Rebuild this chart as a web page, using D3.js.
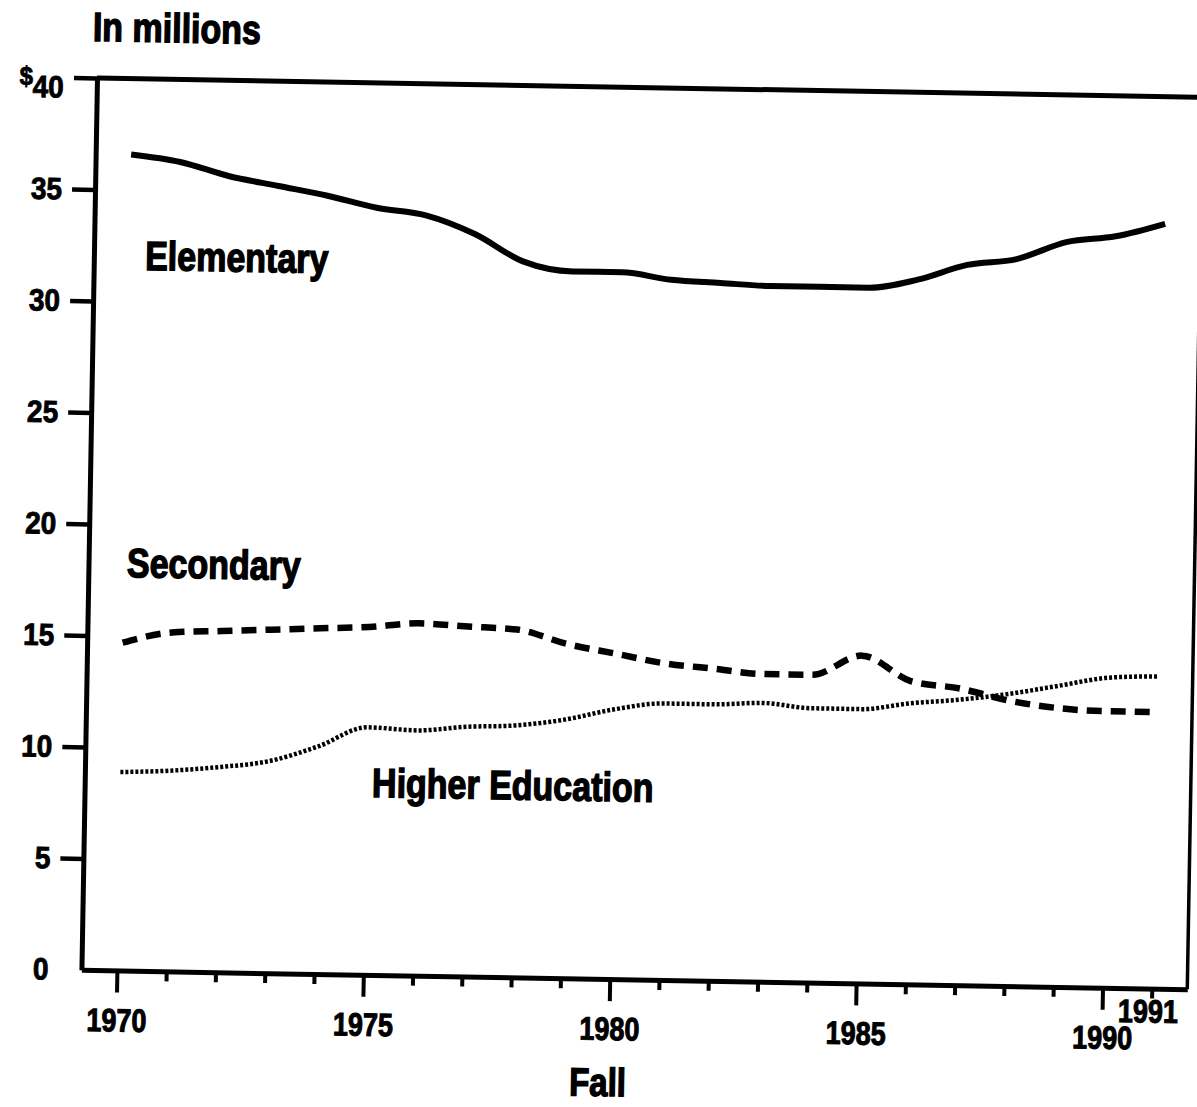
<!doctype html>
<html lang="en">
  <head>
    <meta charset="utf-8">
    <title>Enrollment, in millions</title>
    <script src="https://d3js.org/d3.v7.min.js"></script>
    <style>
      body { margin: 0; background: #fff; }
      text { font-family: "Liberation Sans", Arial, sans-serif; font-weight: bold; fill: #000; }
    </style>
  </head>
  <body>
    <div class="chart-container"></div>
    <script type="text/javascript">
    // Fall enrollment, in millions
    const years = [1970, 1971, 1972, 1973, 1974, 1975, 1976, 1977, 1978, 1979, 1980,
                   1981, 1982, 1983, 1984, 1985, 1986, 1987, 1988, 1989, 1990, 1991];
    const elementary = [36.6, 36.3, 35.7, 35.3, 34.9, 34.4, 34.1, 33.3, 32.1, 31.7, 31.7,
                        31.4, 31.3, 31.2, 31.2, 31.2, 31.6, 32.3, 32.6, 33.4, 33.7, 34.3];
    const secondary = [14.7, 15.2, 15.3, 15.4, 15.5, 15.6, 15.8, 15.7, 15.6, 15.0, 14.6,
                       14.2, 14.0, 13.8, 13.8, 14.7, 13.6, 13.3, 12.8, 12.5, 12.4, 12.4];
    const higherEd = [8.9, 9.0, 9.2, 9.5, 10.2, 11.1, 11.0, 11.2, 11.3, 11.6, 12.1,
                      12.4, 12.4, 12.5, 12.3, 12.3, 12.6, 12.8, 13.1, 13.5, 13.9, 14.0];

    const yTicks = [0, 5, 10, 15, 20, 25, 30, 35, 40];
    const xLabelled = [1970, 1975, 1980, 1985, 1990];

    const width = 1197,
        height = 1107,
        tilt = 1.0,            // the printed page sits slightly rotated
        stretch = 1.2;         // lettering is tall and narrow

    const svg = d3.select(".chart-container")
        .append("svg")
        .attr("width", width)
        .attr("height", height);

    // scales
    const x = d3.scaleLinear()
        .domain([1969.28, 1991.72])
        .range([97, 1203]);

    const y = d3.scaleLinear()
        .domain([0, 40])
        .range([970, 78]);

    const g = svg.append("g")
        .attr("transform", `rotate(${tilt},${x.range()[0]},${y(40)})`);

    // frame: top rule and right rule
    g.append("line")
        .attr("x1", x.range()[0]).attr("x2", x.range()[1] + 40)
        .attr("y1", y(40)).attr("y2", y(40))
        .attr("stroke", "#000").attr("stroke-width", 5);

    g.append("line")
        .attr("x1", x.range()[1]).attr("x2", x.range()[1])
        .attr("y1", y(40)).attr("y2", y(0))
        .attr("stroke", "#000").attr("stroke-width", 3.5);

    // y axis
    const gy = g.append("g")
        .attr("transform", `translate(${x.range()[0]},0)`)
        .call(d3.axisLeft(y)
            .tickValues(yTicks)
            .tickSize(23)
            .tickSizeOuter(0)
            .tickPadding(10)
            .tickFormat(d => d === 40 ? "" : d));

    gy.select(".domain").attr("stroke-width", 5);
    gy.selectAll(".tick line").attr("stroke-width", 4.5);
    gy.selectAll(".tick").filter(d => d === 0).select("line").remove();
    gy.selectAll(".tick text")
        .style("font-size", "28px")
        .attr("transform", "scale(1,1.1)")
        .attr("stroke", "#000").attr("stroke-width", 0.8);

    // "$40" with a raised dollar sign
    const topLabel = gy.selectAll(".tick").filter(d => d === 40).select("text");
    topLabel.append("tspan").text("$")
        .style("font-size", "24px")
        .attr("dy", "0.3em");
    topLabel.append("tspan").text("40")
        .attr("dy", "0.38em");

    // x axis
    const gx = g.append("g")
        .attr("transform", `translate(0,${y(0)})`)
        .call(d3.axisBottom(x)
            .tickValues(years)
            .tickSize(10)
            .tickSizeOuter(0)
            .tickFormat(d => (xLabelled.includes(d) || d === 1991) ? d : ""));

    gx.select(".domain").attr("stroke-width", 5);
    gx.selectAll(".tick line").attr("stroke-width", 4);
    gx.selectAll(".tick").filter(d => xLabelled.includes(d))
        .select("line").attr("y2", 22);
    gx.selectAll(".tick text")
        .attr("y", 38 / stretch)
        .attr("transform", `scale(1,${stretch})`)
        .style("font-size", "27px")
        .attr("stroke", "#000").attr("stroke-width", 0.9);
    gx.selectAll(".tick").filter(d => d === 1991)
        .select("text")
        .attr("y", 11 / stretch)
        .attr("dx", -4);

    // lines
    const line = d3.line()
        .x((d, i) => x(years[i]))
        .y(d => y(d))
        .curve(d3.curveMonotoneX);

    const series = [
        {name: "Elementary", values: elementary, width: 6, dash: null},
        {name: "Secondary", values: secondary, width: 6.5, dash: "15,9"},
        {name: "Higher Education", values: higherEd, width: 4.5, dash: "3,2"}
    ];

    g.append("g")
        .attr("fill", "none")
        .attr("stroke", "#000")
        .selectAll("path")
        .data(series)
        .join("path")
        .attr("stroke-width", d => d.width)
        .attr("stroke-dasharray", d => d.dash)
        .attr("d", d => line(d.values));

    // series labels, anchored in data units
    const labels = [
        {text: "Elementary", year: 1970.32, value: 31.43},
        {text: "Secondary", year: 1970.06, value: 17.65},
        {text: "Higher Education", year: 1975.11, value: 7.98}
    ];

    g.append("g")
        .selectAll("text")
        .data(labels)
        .join("text")
        .attr("x", d => x(d.year))
        .attr("y", d => y(d.value) / stretch)
        .attr("transform", `scale(1,${stretch})`)
        .style("font-size", "34px")
        .attr("stroke", "#000").attr("stroke-width", 1.2)
        .text(d => d.text);

    // titles
    g.append("text")
        .attr("x", 92)
        .attr("y", 41 / stretch)
        .attr("transform", `scale(1,${stretch})`)
        .style("font-size", "34px")
        .attr("stroke", "#000").attr("stroke-width", 1.2)
        .text("In millions");

    g.append("text")
        .attr("x", 615)
        .attr("y", 1087 / stretch)
        .attr("transform", `scale(1,${stretch})`)
        .attr("text-anchor", "middle")
        .style("font-size", "33px")
        .attr("stroke", "#000").attr("stroke-width", 1.2)
        .text("Fall");
    </script>
  </body>
</html>
